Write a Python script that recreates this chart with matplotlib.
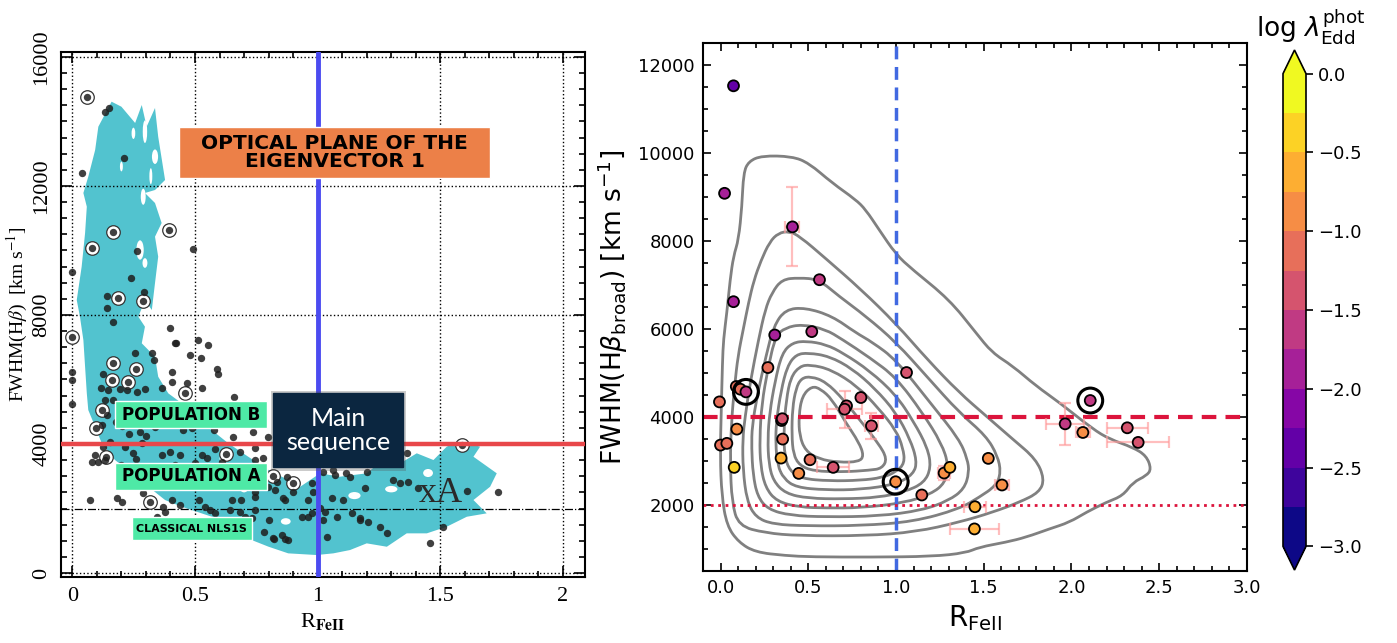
import numpy as np
import matplotlib
matplotlib.use('Agg')
import matplotlib.pyplot as plt
import matplotlib.ticker as mticker
from matplotlib.path import Path
from matplotlib.patches import PathPatch, Rectangle, Ellipse
from matplotlib.colors import BoundaryNorm

# ---------------- left panel: optical plane of E1 ----------------
ev1_pts = [
    (0.133, 14300), (0.151, 14405), (0.212, 12856), (0.038, 12391), (0.265, 9991), (0.493, 10044),
    (0.0, 9340), (0.239, 9136), (0.294, 8702), (0.143, 8597), (0.143, 8206),
    (0.167, 7790), (0.398, 7585), (0.514, 7223), (0.554, 7068), (0.419, 7121), (0.48, 6758),
    (0.256, 6810), (0.324, 6810), (0.334, 6603), (0.0, 6240), (0.0, 5983), (0.0, 5239),
    (0.589, 6315), (0.595, 6169), (0.405, 6240), (0.126, 6169), (0.405, 5930), (0.466, 5899),
    (0.527, 5726), (0.116, 5726), (0.147, 5673), (0.194, 5694), (0.222, 5673), (0.262, 5620),
    (0.296, 5694), (0.364, 5726), (0.659, 5465), (0.133, 5363), (0.167, 5363), (0.14, 4898),
    (0.12, 4588), (0.201, 4557), (0.276, 4380), (0.337, 4535), (0.452, 4433), (0.487, 4486),
    (0.656, 4225), (0.738, 4380), (0.799, 4225), (0.126, 3915), (0.154, 4070), (0.093, 3658),
    (0.215, 3915), (0.249, 3711), (0.283, 4020), (0.364, 3658), (0.398, 3760), (0.439, 3658),
    (0.527, 3658), (0.582, 3834), (0.684, 3760), (0.745, 3503), (0.779, 3556), (0.079, 3450),
    (0.133, 3503), (0.609, 3450), (0.833, 2830), (0.772, 2728), (0.745, 2520), (0.901, 2520),
    (0.867, 2263), (0.962, 2263), (0.072, 2263), (0.181, 2315), (0.201, 2210), (0.289, 2470),
    (0.371, 2055), (0.405, 2263), (0.541, 2055), (0.582, 1850), (0.65, 2263), (0.684, 1900),
    (0.731, 1695), (0.745, 1953), (0.8, 1643), (0.819, 1076), (0.854, 1178), (0.88, 1023),
    (0.935, 1745), (0.976, 1850), (1.363, 3711), (1.2, 3140), (1.132, 2985), (1.064, 3193),
    (1.023, 3140), (1.071, 3038), (0.976, 2780), (0.982, 2520), (1.309, 2883), (1.336, 2780),
    (1.37, 2830), (1.193, 2626), (1.057, 2315), (1.105, 2263), (1.01, 2005), (1.023, 1643),
    (0.962, 1745), (1.139, 1850), (1.173, 1695), (1.207, 1590), (1.254, 1435), (1.282, 1230),
    (1.078, 1745), (1.037, 1125), (1.458, 940), (1.51, 1416), (1.608, 2550), (1.737, 2520),
    (1.41, 2626), (0.423, 7140), (0.525, 6655), (0.415, 5105), (0.579, 4433), (0.743, 3866),
    (0.773, 3091), (0.875, 2985), (1.117, 3091), (1.031, 1900), (1.172, 1643), (0.821, 1045),
    (0.868, 1045), (0.782, 1280), (0.704, 1745), (0.641, 1953), (0.563, 1953), (0.517, 2263),
    (0.439, 2108), (0.376, 1900), (0.345, 1745), (0.103, 3450), (0.501, 3400), (0.548, 3556),
    (0.602, 3038), (0.688, 2780), (0.735, 2675), (0.797, 2675), (0.828, 2573), (0.86, 2315),
    (0.743, 2365), (0.688, 2263), (0.18, 4690), (0.23, 4300), (0.3, 4250), (0.26, 3550),
    (0.2, 3350), (0.42, 3350),
]
ev1_ring = [
    (0.059, 14765), (0.167, 10580), (0.394, 10633), (0.079, 10066), (0.185, 8516), (0.29, 8442),
    (0.0, 7306), (0.167, 6500), (0.258, 6315), (0.16, 5983), (0.459, 5571), (0.12, 5053),
    (0.095, 4486), (0.139, 3605), (0.627, 3689), (0.819, 3016), (0.901, 2799), (0.317, 2210),
    (1.59, 3968), (0.228, 5930),
]
cyan_outline = [
    (0.16, 14610), (0.2, 14455), (0.256, 13950), (0.283, 14508), (0.303, 13835), (0.337, 14415),
    (0.35, 13525), (0.378, 12183), (0.337, 11873), (0.296, 11780), (0.337, 11470), (0.364, 10850),
    (0.337, 10425), (0.35, 9805), (0.337, 8990), (0.324, 8153), (0.296, 8463), (0.269, 7945),
    (0.296, 7635), (0.283, 7121), (0.337, 6705), (0.35, 6085), (0.391, 5571), (0.446, 5261),
    (0.514, 4743), (0.568, 4433), (0.636, 4020), (0.717, 3605), (0.8, 3193), (0.88, 2883),
    (0.929, 2675), (1.01, 3091), (1.09, 2985), (1.2, 3091), (1.282, 3605), (1.336, 3400),
    (1.404, 3711), (1.472, 3503), (1.526, 3915), (1.581, 4123), (1.662, 3915), (1.635, 3605),
    (1.73, 3091), (1.703, 2675), (1.635, 2263), (1.689, 1850), (1.608, 1745), (1.526, 1435),
    (1.445, 1230), (1.363, 1230), (1.282, 815), (1.2, 920), (1.132, 713), (1.064, 610),
    (0.996, 558), (0.88, 610), (0.8, 815), (0.731, 1023), (0.69, 1333), (0.609, 1643),
    (0.527, 1850), (0.446, 2055), (0.378, 2263), (0.31, 2675), (0.242, 3091), (0.174, 3503),
    (0.12, 4020), (0.093, 4535), (0.065, 5053), (0.059, 5571), (0.052, 6395), (0.045, 7223),
    (0.031, 7945), (0.018, 8463), (0.038, 9495), (0.052, 10540), (0.059, 11355), (0.045, 11780),
    (0.065, 12285), (0.093, 13113), (0.106, 13835),
]
# white gaps inside the cyan density: centre x, centre y, width, height
cyan_holes = [
    (0.296, 13680, 0.018, 700), (0.337, 12905, 0.025, 450), (0.249, 13630, 0.015, 350),
    (0.289, 11665, 0.02, 500), (0.276, 10013, 0.03, 600), (0.296, 9610, 0.02, 300),
    (0.32, 12300, 0.012, 500), (0.2, 12600, 0.012, 300), (0.62, 3550, 0.04, 250),
    (1.3, 2600, 0.05, 200), (1.45, 3100, 0.04, 250), (0.87, 1600, 0.04, 200),
    (1.15, 2400, 0.05, 220), (0.7, 2600, 0.03, 200),
]
left_xticks = [0, 0.5, 1, 1.5, 2]
left_yticks = [0, 4000, 8000, 12000, 16000]

# ---------------- right panel: this sample ----------------
rfe = [0.074, 0.023, 0.41, 0.074, 0.564, 0.309, 0.52, 0.27, 0.09, 0.113, 0.145, -0.006,
       0.348, 0.352, 0.093, 0.0, 0.036, 0.354, 0.345, 0.078, 0.51, 0.446, 0.642, 0.718,
       0.707, 0.80, 0.86, 0.998, 1.06, 1.147, 1.274, 1.307, 1.45, 1.447, 1.526, 1.604,
       2.107, 1.964, 2.065, 2.318, 2.38]
fwhm = [11526, 9083, 8320, 6620, 7119, 5863, 5940, 5123, 4692, 4631, 4570, 4343,
        3920, 3960, 3724, 3361, 3400, 3497, 3066, 2855, 3028, 2718, 2855, 4253,
        4177, 4442, 3799, 2528, 5010, 2227, 2726, 2855, 1960, 1456, 3059, 2454,
        4374, 3844, 3648, 3754, 3422]
log_edd = [-2.4, -1.9, -1.9, -1.9, -1.6, -1.9, -1.6, -1.1, -1.1, -1.1, -1.6, -1.15,
           -1.4, -1.4, -0.85, -1.15, -1.2, -1.1, -0.6, -0.4, -1.1, -0.9, -1.4, -1.4,
           -1.4, -1.4, -1.3, -0.85, -1.4, -1.1, -0.85, -0.6, -0.6, -0.6, -0.85, -0.85,
           -1.6, -1.6, -0.85, -1.4, -1.4]
ring_x = [0.145, 0.998, 2.107]
ring_y = [4570, 2528, 4374]
err_x = [0.41, 0.642, 0.707, 0.86, 1.274, 1.45, 1.447, 1.604, 1.964, 2.065, 2.318, 2.38]
err_y = [8320, 2855, 4177, 3799, 2726, 1960, 1456, 2454, 3844, 3648, 3754, 3422]
err_xe = [0.04, 0.09, 0.1, 0.035, 0.035, 0.065, 0.14, 0.04, 0.11, 0.04, 0.116, 0.175]
err_ye = [900, 0, 420, 300, 150, 0, 0, 100, 480, 100, 0, 0]

kde_1 = [(0.011, 5240), (0.017, 5765), (0.036, 6370), (0.055, 7126), (0.074, 7654), (0.103, 8033),
         (0.122, 8788), (0.131, 9546), (0.16, 9809), (0.236, 9938), (0.407, 9922), (0.503, 9772),
         (0.636, 9319), (0.77, 8940), (0.827, 8713), (0.903, 8260), (1.0, 7693), (1.093, 7352),
         (1.303, 6672), (1.455, 5917), (1.547, 5463), (1.665, 5159), (1.798, 4706), (1.931, 4329),
         (2.122, 3724), (2.217, 3497), (2.35, 3309), (2.427, 3118), (2.455, 2816), (2.427, 2665),
         (2.35, 2515), (2.293, 2211), (2.198, 2061), (2.084, 1834), (1.989, 1608), (1.874, 1456),
         (1.741, 1267), (1.627, 1154), (1.474, 1041), (1.398, 911), (1.206, 830), (0.863, 815),
         (0.52, 820), (0.37, 850), (0.198, 927), (0.103, 1154), (0.036, 1530), (0.007, 2211),
         (-0.002, 3118), (0.004, 4102)]
kde_2 = [(0.055, 2968), (0.062, 3876), (0.08, 4700), (0.1, 5400), (0.13, 6000), (0.16, 6600),
         (0.19, 7100), (0.23, 7550), (0.28, 7980), (0.33, 8180), (0.39, 8220), (0.45, 8110),
         (0.6, 7600), (0.8, 6900), (1.0, 6120), (1.18, 5300), (1.36, 4556), (1.513, 4025),
         (1.665, 3497), (1.798, 3043), (1.846, 2590), (1.817, 2288), (1.703, 2061), (1.55, 1834),
         (1.36, 1608), (1.113, 1388), (0.827, 1300), (0.446, 1300), (0.255, 1365), (0.103, 1524),
         (0.065, 2061)]
kde_3 = [(0.128, 2800), (0.126, 3500), (0.14, 4000), (0.17, 4800), (0.217, 5765), (0.255, 6445),
         (0.293, 6824), (0.35, 7126), (0.446, 7164), (0.56, 7126), (0.674, 6747), (0.827, 6293),
         (1.0, 5700), (1.18, 4900), (1.36, 4102), (1.513, 3572), (1.579, 3118), (1.598, 2742),
         (1.57, 2438), (1.474, 2175), (1.36, 1910), (1.1, 1620), (0.8, 1530), (0.5, 1524),
         (0.3, 1560), (0.2, 1720), (0.15, 2100)]
kde_4 = [(0.185, 2700), (0.177, 3300), (0.18, 3800), (0.21, 4500), (0.26, 5400), (0.303, 6066),
         (0.37, 6445), (0.484, 6484), (0.636, 6293), (0.77, 5917), (0.865, 5700), (1.0, 5300),
         (1.2, 4300), (1.36, 3497), (1.407, 3043), (1.417, 2742), (1.389, 2363), (1.3, 2100),
         (1.15, 1880), (0.9, 1745), (0.6, 1728), (0.4, 1760), (0.27, 1900), (0.21, 2200)]
kde_5 = [(0.228, 2900), (0.223, 3500), (0.235, 4300), (0.27, 5100), (0.313, 5840), (0.37, 6030),
         (0.465, 6105), (0.598, 5992), (0.693, 5765), (0.85, 5350), (1.0, 4900), (1.15, 4100),
         (1.26, 3400), (1.3, 2900), (1.28, 2500), (1.2, 2250), (1.05, 2050), (0.8, 1935),
         (0.6, 1932), (0.45, 1950), (0.32, 2080), (0.255, 2400)]
kde_6 = [(0.275, 2950), (0.269, 3500), (0.28, 4100), (0.31, 4800), (0.35, 5450), (0.41, 5690),
         (0.49, 5726), (0.6, 5650), (0.7, 5450), (0.85, 5050), (1.0, 4500), (1.1, 3900),
         (1.18, 3300), (1.2, 2850), (1.16, 2500), (1.05, 2300), (0.9, 2170), (0.7, 2136),
         (0.5, 2150), (0.37, 2260), (0.3, 2550)]
kde_7 = [(0.325, 2900), (0.314, 3400), (0.318, 3900), (0.345, 4600), (0.38, 5150), (0.43, 5420),
         (0.5, 5458), (0.62, 5380), (0.75, 5100), (0.88, 4650), (1.0, 4100), (1.08, 3500),
         (1.12, 3000), (1.1, 2700), (1.0, 2470), (0.8, 2350), (0.6, 2340), (0.43, 2400),
         (0.36, 2600)]
kde_8 = [(0.365, 3100), (0.36, 3700), (0.375, 4400), (0.4, 4900), (0.45, 5150), (0.51, 5190),
         (0.63, 5080), (0.78, 4700), (0.9, 4200), (1.0, 3700), (1.04, 3300), (1.05, 2950),
         (1.0, 2750), (0.92, 2620), (0.8, 2560), (0.62, 2545), (0.46, 2600), (0.395, 2780)]
kde_9 = [(0.415, 3150), (0.406, 3600), (0.41, 4200), (0.43, 4650), (0.46, 4880), (0.515, 4922),
         (0.6, 4800), (0.7, 4400), (0.8, 3900), (0.9, 3400), (0.95, 3050), (0.92, 2830),
         (0.85, 2790), (0.7, 2750), (0.53, 2770), (0.45, 2900)]
kde_10 = [(0.446, 4025), (0.465, 4479), (0.52, 4700), (0.57, 4640), (0.636, 4400), (0.713, 3876),
          (0.789, 3422), (0.817, 3118), (0.789, 2982), (0.674, 2968), (0.56, 3043), (0.484, 3232),
          (0.45, 3572)]
cbar_bounds = np.linspace(-3, 0, 13)


def smooth_loop(pts):
    # closed quadratic bezier through the midpoints of the control polygon
    p = np.array(pts, dtype=float)
    mids = (p + np.roll(p, -1, axis=0)) / 2
    verts = [mids[-1]]
    codes = [Path.MOVETO]
    for i in range(len(p)):
        verts += [p[i], mids[i]]
        codes += [Path.CURVE3, Path.CURVE3]
    return Path(verts, codes)


def label_box(ax, x0, y0, x1, y1, fc, text, ec='white', **kw):
    ax.add_patch(Rectangle((x0, y0), x1 - x0, y1 - y0, transform=ax.transAxes,
                           facecolor=fc, edgecolor=ec, lw=1, zorder=10, clip_on=False))
    ax.text((x0 + x1) / 2, (y0 + y1) / 2, text, transform=ax.transAxes,
            ha='center', va='center', zorder=11, **kw)


fig = plt.figure(figsize=(13.97, 6.43), dpi=100)
serif = 'Liberation Serif'

# ===== left =====
ax1 = fig.add_axes([0.0437, 0.1026, 0.3751, 0.8165])
cx, cy = zip(*cyan_outline)
ax1.fill(cx, cy, color='#52c3cf', lw=0, zorder=1)
for hx, hy, hw, hh in cyan_holes:
    ax1.add_patch(Ellipse((hx, hy), hw, hh, facecolor='white', lw=0, zorder=1.1))
ax1.grid(True, ls=':', color='black', lw=1)
ax1.axhline(2000, color='black', ls='-.', lw=0.9, zorder=2)
rx, ry = zip(*ev1_ring)
ax1.scatter(rx, ry, s=95, facecolors='white', edgecolors='#333333', linewidths=0.9, zorder=3)
px, py = zip(*(ev1_pts + ev1_ring))
ax1.scatter(px, py, s=28, color='#1e1e1e', alpha=0.85, lw=0, zorder=4)
ax1.axhline(4000, color='#e8474a', lw=3.2, zorder=5)
ax1.axvline(1, color='#4b4bf0', lw=3.5, zorder=5)
ax1.text(1.5, 2480, 'xA', fontsize=26, family=serif, color='#2a2a2a',
         ha='center', va='center', zorder=6)

ax1.set_xlim(-0.046, 2.09)
ax1.set_ylim(-124, 16150)
ax1.set_xticks(left_xticks)
ax1.set_yticks(left_yticks)
ax1.xaxis.set_major_formatter(mticker.FormatStrFormatter('%g'))
ax1.xaxis.set_minor_locator(mticker.MultipleLocator(0.1))
ax1.yaxis.set_minor_locator(mticker.MultipleLocator(500))
ax1.tick_params(which='both', direction='in', top=True, right=True, width=1.2)
ax1.tick_params(which='major', length=8, labelsize=16, pad=7)
ax1.tick_params(which='minor', length=4)
ax1.tick_params(axis='y', labelrotation=90)
for lab in ax1.get_xticklabels() + ax1.get_yticklabels():
    lab.set_family(serif)
for lab in ax1.get_yticklabels():
    lab.set_va('center')
for sp in ax1.spines.values():
    sp.set_linewidth(1.5)
ax1.set_xlabel(r'R$_{\mathbf{FeII}}$', fontsize=16, family=serif, math_fontfamily='stix', labelpad=4)
ax1.set_ylabel(r'FWHM(H$\beta$)  [km s$^{-1}$]', fontsize=14, family=serif,
               math_fontfamily='stix', labelpad=2)

label_box(ax1, 0.225, 0.76, 0.819, 0.857, '#ec8048', 'OPTICAL PLANE OF THE\nEIGENVECTOR 1',
          fontsize=14.5, weight='heavy', color='black', linespacing=0.95)
label_box(ax1, 0.103, 0.284, 0.393, 0.335, '#4ee9a6', 'POPULATION B',
          fontsize=12, weight='bold', color='black')
label_box(ax1, 0.103, 0.166, 0.393, 0.217, '#4ee9a6', 'POPULATION A',
          fontsize=12, weight='bold', color='black')
label_box(ax1, 0.135, 0.07, 0.364, 0.114, '#4ee9a6', 'CLASSICAL NLS1S',
          fontsize=8, weight='bold', color='black')
ax1.add_patch(Rectangle((0.401, 0.202), 0.258, 0.152, transform=ax1.transAxes,
                        facecolor='#555555', alpha=0.3, lw=0, zorder=9))
label_box(ax1, 0.405, 0.21, 0.653, 0.35, '#0b2640', 'Main\nsequence', ec='#0b2640',
          fontsize=18, family='Lato', color='white', linespacing=1.05)

# ===== right =====
ax2 = fig.add_axes([0.5032, 0.112, 0.3894, 0.8212])
for lev in [kde_1, kde_2, kde_3, kde_4, kde_5, kde_6, kde_7, kde_8, kde_9, kde_10]:
    ax2.add_patch(PathPatch(smooth_loop(lev), fill=False, edgecolor='#808080', lw=2, zorder=1.5))
ax2.axvline(1.0, color='#4169e1', ls=(0, (3.7, 2.2)), lw=2.5, zorder=2)
ax2.axhline(4000, color='#dc143c', ls=(0, (3.5, 2.2)), lw=3, zorder=2)
ax2.axhline(2000, color='#dc143c', ls=':', lw=2, zorder=2)
ax2.errorbar(err_x, err_y, xerr=err_xe, yerr=err_ye, fmt='none', ecolor='#ff9c9c',
             alpha=0.65, elinewidth=1.6, capsize=4, capthick=1.6, zorder=3)

cmap = plt.get_cmap('plasma', 12)
norm = BoundaryNorm(cbar_bounds, 12)
sc = ax2.scatter(rfe, fwhm, c=log_edd, cmap=cmap, norm=norm, s=62,
                 edgecolors='black', linewidths=1.3, zorder=5)
ax2.scatter(ring_x, ring_y, s=320, facecolors='none', edgecolors='black', linewidths=2.2, zorder=6)

ax2.set_xlim(-0.1, 3.0)
ax2.set_ylim(500, 12500)
ax2.xaxis.set_major_locator(mticker.MultipleLocator(0.5))
ax2.xaxis.set_minor_locator(mticker.MultipleLocator(0.1))
ax2.yaxis.set_major_locator(mticker.MultipleLocator(2000))
ax2.yaxis.set_minor_locator(mticker.MultipleLocator(500))
ax2.tick_params(which='both', direction='in', top=True, right=True, width=1.2)
ax2.tick_params(which='major', length=6, labelsize=13, pad=6)
ax2.tick_params(which='minor', length=3.5)
for sp in ax2.spines.values():
    sp.set_linewidth(1.5)
ax2.set_xlabel(r'R$_{\rm FeII}$', fontsize=20, labelpad=4)
ax2.set_ylabel(r'FWHM(H$\beta_{\rm broad}$) [km s$^{-1}$]', fontsize=19, labelpad=6)

cax = fig.add_axes([0.9184, 0.1135, 0.01646, 0.8087])
cb = fig.colorbar(sc, cax=cax, extend='both', ticks=np.arange(-3, 0.01, 0.5))
cb.ax.tick_params(labelsize=13, direction='out', length=5, width=1.2)
cb.ax.minorticks_off()
cb.outline.set_linewidth(1.2)
fig.text(0.938, 0.958, r'log $\lambda^{\rm phot}_{\rm Edd}$', fontsize=19, ha='center', va='center')

fig.savefig('out.png', dpi=100)
